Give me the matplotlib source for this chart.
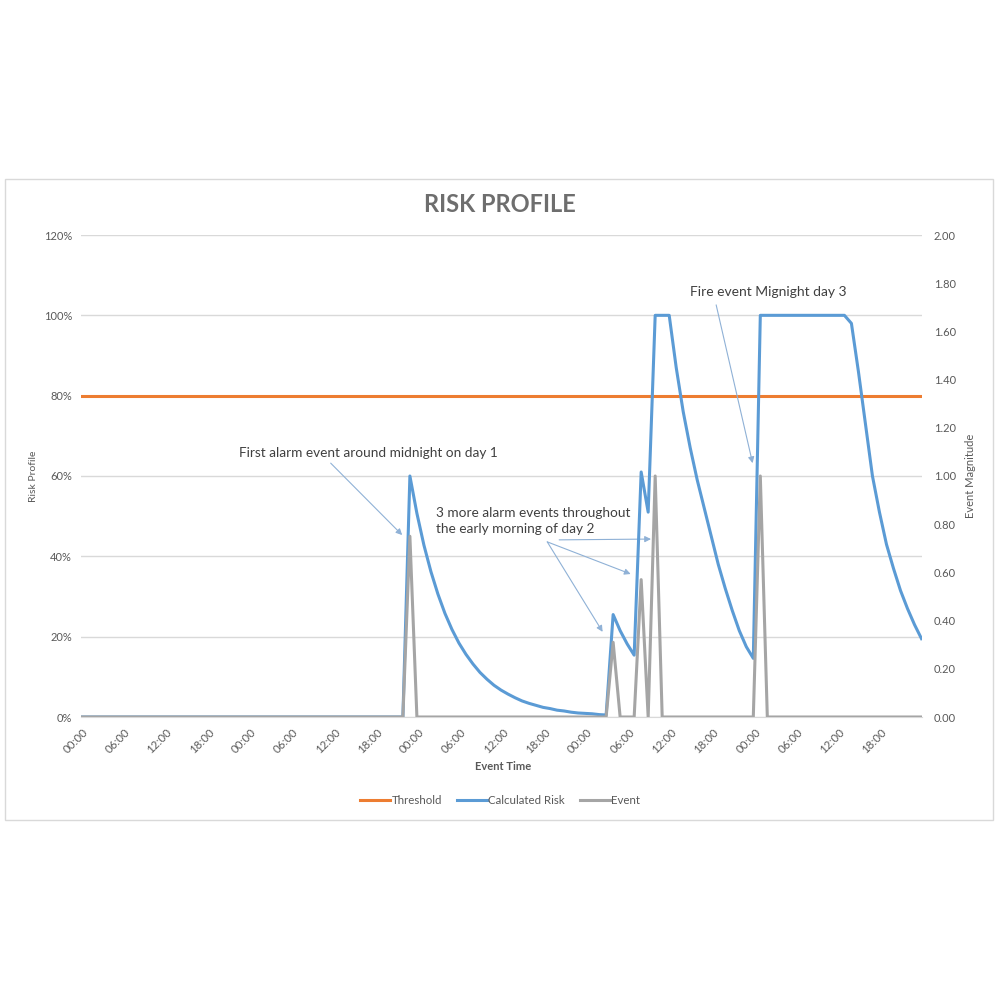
import numpy as np
import matplotlib
matplotlib.use("Agg")
import matplotlib.pyplot as plt
from matplotlib.lines import Line2D
from matplotlib.patches import Rectangle
from matplotlib.transforms import ScaledTranslation

plt.rcParams['font.family'] = ['Lato', 'DejaVu Sans']

# hourly samples over 5 days
hours = np.arange(0, 121)
tick_hours = list(range(0, 120, 6))
tick_labels = ["00:00", "06:00", "12:00", "18:00"] * 5

# calculated risk in %
risk = ([0.0] * 47 +
        [60, 50.7, 42.8, 36.2, 30.6, 25.8, 21.8, 18.4, 15.6, 13.2,
         11.1, 9.4, 7.9, 6.7, 5.7, 4.8, 4.0, 3.4, 2.9, 2.4,
         2.1, 1.7, 1.5, 1.2, 1.0, 0.9, 0.8, 0.6, 0.5] +
        [25.5, 21.5, 18.2, 15.4, 61, 51, 100, 100, 100, 87,
         76, 67, 59, 52, 45, 38, 32, 26.5, 21.5, 17.5, 14.6] +
        [100] * 13 +
        [98, 86, 73, 60, 51, 43, 37, 31.5, 27, 23, 19.5])
threshold = 80

# alarm / fire events (hour, magnitude)
event_hours = [47, 76, 80, 82, 97]
event_mags = [0.75, 0.31, 0.57, 1.00, 1.00]
event = np.zeros(len(hours))
event[event_hours] = event_mags

c_orange = '#ed7d31'
c_blue = '#5b9bd5'
c_gray = '#a5a5a5'
c_text = '#595959'
c_grid = '#d9d9d9'
c_arrow = '#8fb1d6'

fig = plt.figure(figsize=(10, 10), dpi=100)
fig.patches.append(Rectangle((0.005, 0.18), 0.988, 0.641, transform=fig.transFigure,
                             fill=False, ec=c_grid, lw=1.0))

ax = fig.add_axes([0.0805, 0.283, 0.841, 0.482])
ax2 = ax.twinx()

ax.plot(hours, np.full(len(hours), threshold), color=c_orange, lw=2.2, zorder=3)
ax.plot(hours, risk, color=c_blue, lw=2.2, zorder=4)
ax2.plot(hours, event, color=c_gray, lw=2.2, zorder=5)

ax.set_xlim(0, 120)
ax.set_ylim(0, 120)
ax2.set_ylim(0, 2)
ax.set_yticks(range(0, 121, 20))
ax.set_yticklabels(['{}%'.format(v) for v in range(0, 121, 20)])
ax2.set_yticks(np.arange(0, 2.01, 0.2))
ax2.set_yticklabels(['{:.2f}'.format(v) for v in np.arange(0, 2.01, 0.2)])
ax.grid(axis='y', color=c_grid, lw=1.0)
ax.set_axisbelow(True)

for a in (ax, ax2):
    for s in a.spines.values():
        s.set_visible(False)
ax.spines['bottom'].set_visible(True)
ax.spines['bottom'].set_color(c_grid)

ax.tick_params(axis='y', length=0, pad=6, labelsize=8, labelcolor=c_text)
ax2.tick_params(axis='y', length=0, pad=9, labelsize=8, labelcolor=c_text)

ax.set_xticks(tick_hours)
ax.set_xticklabels(tick_labels, rotation=45, ha='right', va='center',
                   rotation_mode='anchor')
ax.tick_params(axis='x', length=0, pad=10, labelsize=8.3, labelcolor=c_text)
shift = ScaledTranslation(4 / 72, 0, fig.dpi_scale_trans)
for lab in ax.get_xticklabels():
    lab.set_transform(lab.get_transform() + shift)

fig.text(0.5, 0.795, 'RISK PROFILE', ha='center', va='center', fontsize=17,
         fontweight='bold', color='#6e6e6e')
fig.text(0.503, 0.233, 'Event Time', ha='center', va='center', fontsize=8,
         fontweight='bold', color=c_text)
fig.text(0.033, 0.524, 'Risk Profile', ha='center', va='center', fontsize=7.5,
         rotation=90, color=c_text)
fig.text(0.970, 0.524, 'Event Magnitude', ha='center', va='center', fontsize=8,
         rotation=90, color=c_text)

# annotations
arr = dict(arrowstyle='-|>', color=c_arrow, lw=0.8, mutation_scale=9,
           shrinkA=0, shrinkB=0)
ax.text(22.6, 65.7, 'First alarm event around midnight on day 1', fontsize=9.8,
        color='#404040', va='center', ha='left', zorder=6)
ax.annotate('', xy=(45.9, 45.3), xytext=(35.7, 63.2), arrowprops=arr)

ax.text(50.7, 48.8, '3 more alarm events throughout\nthe early morning of day 2',
        fontsize=9.8, color='#404040', va='center', ha='left', linespacing=1.35, zorder=6)
ax.annotate('', xy=(74.5, 21.2), xytext=(66.6, 43.6), arrowprops=arr)
ax.annotate('', xy=(78.5, 35.6), xytext=(66.6, 43.6), arrowprops=arr)
ax.annotate('', xy=(81.4, 44.3), xytext=(68.3, 44.1), arrowprops=arr)

ax.text(86.9, 105.8, 'Fire event Mignight day 3', fontsize=10,
        color='#404040', va='center', ha='left', zorder=6)
ax.annotate('', xy=(95.9, 63.2), xytext=(90.7, 102.6), arrowprops=arr)

handles = [Line2D([], [], color=c_orange, lw=2.2),
           Line2D([], [], color=c_blue, lw=2.2),
           Line2D([], [], color=c_gray, lw=2.2)]
fig.legend(handles, ['Threshold', 'Calculated Risk', 'Event'], loc='center',
           bbox_to_anchor=(0.5, 0.199), ncol=3, frameon=False, fontsize=8.3,
           handlelength=2.6, handletextpad=0.1, columnspacing=1.3,
           labelcolor=c_text)

fig.savefig('out.png', dpi=100, facecolor='white')
